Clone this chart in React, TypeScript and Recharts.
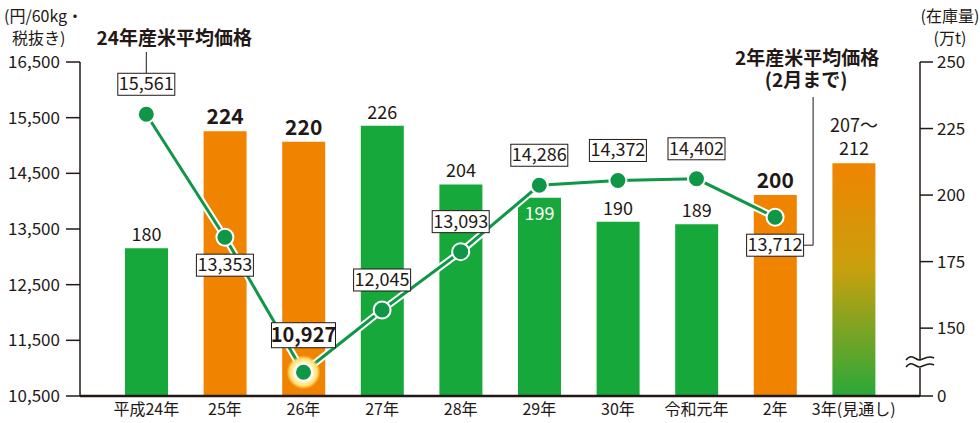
import React from "react";
import { Bar, Cell, ComposedChart, LabelList, Line, XAxis, YAxis } from "recharts";

const years = ["平成24年", "25年", "26年", "27年", "28年", "29年", "30年", "令和元年", "2年", "3年(見通し)"];
const stock = [180, 224, 220, 226, 204, 199, 190, 189, 200, 212];
const stockLabels = ["180", "224", "220", "226", "204", "199", "190", "189", "200", "207～|212"];
const price = [15561, 13353, 10927, 12045, 13093, 14286, 14372, 14402, 13712, null];
const priceTicks = [10500, 11500, 12500, 13500, 14500, 15500, 16500];
const stockTicks = [124.5, 150, 175, 200, 225, 250];

const INK = "#231815";
const GREEN = "#17a83b";
const ORANGE = "#f08300";
const LINE = "#0f9747";
const FONT = "'Noto Sans CJK JP', 'Noto Sans', sans-serif";

const orangeBars = [1, 2, 8];
const boldIdx = [1, 2, 8];
const belowIdx = [1, 8];

const data = years.map((year, i) => ({
  year,
  stock: stock[i],
  stockLabel: stockLabels[i],
  price: price[i],
}));

function barLabel(props: any) {
  const { x, y, width, value, index } = props;
  const cx = x + width / 2;
  if (index === 5) {
    return (
      <text x={cx} y={y + 22} textAnchor="middle" fill="#fff" fontSize={18} fontFamily={FONT}>
        {value}
      </text>
    );
  }
  if (String(value).includes("|")) {
    const [a, b] = String(value).split("|");
    return (
      <g fontFamily={FONT} fontSize={18} fill={INK}>
        <text x={cx} y={y - 31} textAnchor="middle">{a}</text>
        <text x={cx} y={y - 8} textAnchor="middle">{b}</text>
      </g>
    );
  }
  const bold = boldIdx.includes(index);
  return (
    <text
      x={cx}
      y={y - 7}
      textAnchor="middle"
      fill={INK}
      fontSize={bold ? 21 : 18}
      fontWeight={bold ? 700 : 400}
      fontFamily={FONT}
    >
      {value}
    </text>
  );
}

function priceLabel(props: any) {
  const { x, y, value, index } = props;
  if (value == null) return null;
  const bold = index === 2;
  const w = bold ? 64 : 57;
  const h = bold ? 25 : 22;
  let cy = y - 30;
  if (belowIdx.includes(index)) cy = y + 28;
  if (bold) cy = y - 37;
  const txt = Number(value).toLocaleString("en-US");
  return (
    <g>
      {index === 0 && (
        <g>
          <line x1={x} y1={cy - h / 2} x2={x} y2={52} stroke={INK} strokeWidth={1} />
          <text x={x + 28} y={45} textAnchor="middle" fontSize={19} fontWeight={700} fill={INK} fontFamily={FONT}>
            24年産米平均価格
          </text>
        </g>
      )}
      {index === 8 && (
        <g fill="none">
          <polyline points={`${x + w / 2},${cy} ${x + 38},${cy} ${x + 38},97`} stroke={INK} strokeWidth={1} fill="none" />
          <text x={x + 32} y={65} textAnchor="middle" fontSize={19} fontWeight={700} fill={INK} fontFamily={FONT}>
            2年産米平均価格
          </text>
          <text x={x + 31} y={87} textAnchor="middle" fontSize={19} fontWeight={700} fill={INK} fontFamily={FONT}>
            (2月まで)
          </text>
        </g>
      )}
      <rect x={x - w / 2} y={cy - h / 2} width={w} height={h} fill="#fff" stroke={INK} strokeWidth={1} />
      <text
        x={x}
        y={cy + (bold ? 7 : 6)}
        textAnchor="middle"
        fontSize={bold ? 20 : 18}
        fontWeight={bold ? 700 : 400}
        fill={INK}
        fontFamily={FONT}
      >
        {txt}
      </text>
    </g>
  );
}

function priceDot(props: any) {
  const { cx, cy, index, value } = props;
  if (value == null || cx == null) return <g key={`d${index}`} />;
  return (
    <g key={`d${index}`}>
      {index === 2 && <circle cx={cx} cy={cy} r={17} fill="url(#glow)" />}
      <circle cx={cx} cy={cy} r={8.5} fill={LINE} stroke="#fff" strokeWidth={2} />
    </g>
  );
}

export default function App() {
  return (
    <div style={{ position: "absolute", left: 0, top: 0, width: 980, height: 423, background: "#fff", fontFamily: FONT }}>
      <ComposedChart width={980} height={423} data={data} margin={{ top: 62, right: 0, bottom: 0, left: 0 }}>
        <defs>
          <linearGradient id="lastBar" x1="0" y1="0" x2="0" y2="1">
            <stop offset="0%" stopColor="#f08400" />
            <stop offset="45%" stopColor="#c9a00e" />
            <stop offset="100%" stopColor="#2aa83a" />
          </linearGradient>
          <radialGradient id="glow">
            <stop offset="0%" stopColor="#ffffff" />
            <stop offset="55%" stopColor="#fff6c8" />
            <stop offset="80%" stopColor="#ffe070" />
            <stop offset="100%" stopColor="#ffe070" stopOpacity={0} />
          </radialGradient>
        </defs>
        <XAxis
          dataKey="year"
          padding={{ left: 27, right: 27 }}
          tickLine={false}
          axisLine={{ stroke: INK, strokeWidth: 2.5 }}
          tick={{ fill: INK, fontSize: 16, fontFamily: FONT }}
          height={27}
          interval={0}
        />
        <YAxis
          yAxisId="price"
          width={80}
          domain={[10500, 16500]}
          ticks={priceTicks}
          tickFormatter={(v: number) => v.toLocaleString("en-US")}
          tickSize={14}
          tickMargin={6}
          axisLine={{ stroke: INK, strokeWidth: 1.5 }}
          tickLine={{ stroke: INK, strokeWidth: 1.5 }}
          tick={{ fill: INK, fontSize: 17, fontFamily: FONT }}
          interval={0}
        />
        <YAxis
          yAxisId="stock"
          orientation="right"
          width={60}
          domain={[124.5, 250]}
          ticks={stockTicks}
          allowDataOverflow
          tickFormatter={(v: number) => (v < 150 ? "0" : String(v))}
          tickSize={13}
          tickMargin={4}
          axisLine={{ stroke: INK, strokeWidth: 1.5 }}
          tickLine={{ stroke: INK, strokeWidth: 1.5 }}
          tick={{ fill: INK, fontSize: 17, fontFamily: FONT }}
          interval={0}
        />
        <Bar yAxisId="stock" dataKey="stock" barSize={43} isAnimationActive={false}>
          {data.map((d, i) => (
            <Cell key={d.year} fill={i === 9 ? "url(#lastBar)" : orangeBars.includes(i) ? ORANGE : GREEN} />
          ))}
          <LabelList dataKey="stockLabel" content={barLabel} />
        </Bar>
        <Line
          yAxisId="price"
          dataKey="price"
          stroke="#fff"
          strokeWidth={7}
          dot={false}
          activeDot={false}
          isAnimationActive={false}
          connectNulls={false}
        />
        <Line
          yAxisId="price"
          dataKey="price"
          stroke={LINE}
          strokeWidth={3}
          dot={priceDot}
          activeDot={false}
          isAnimationActive={false}
        >
          <LabelList dataKey="price" content={priceLabel} />
        </Line>
      </ComposedChart>
      <div style={{ position: "absolute", left: 4, top: 4, fontSize: 16, lineHeight: "22px", color: INK }}>
        (円/60kg・
        <br />
        <span style={{ marginLeft: 8 }}>税抜き)</span>
      </div>
      <div style={{ position: "absolute", left: 920, top: 4, width: 60, textAlign: "center", fontSize: 16, lineHeight: "22px", color: INK }}>
        (在庫量)
        <br />
        (万t)
      </div>
      <svg style={{ position: "absolute", left: 900, top: 350 }} width={40} height={28}>
        <path d="M6,10 C12,2 18,10 20,10 C24,10 28,6 34,8 L34,16 C28,14 24,18 20,18 C16,18 12,10 6,18 Z" fill="#fff" />
        <path d="M6,10 C12,2 16,11 20,10 C24,9 28,5 34,8" fill="none" stroke={INK} strokeWidth={1.5} />
        <path d="M6,17 C12,9 16,18 20,17 C24,16 28,12 34,15" fill="none" stroke={INK} strokeWidth={1.5} />
      </svg>
    </div>
  );
}
